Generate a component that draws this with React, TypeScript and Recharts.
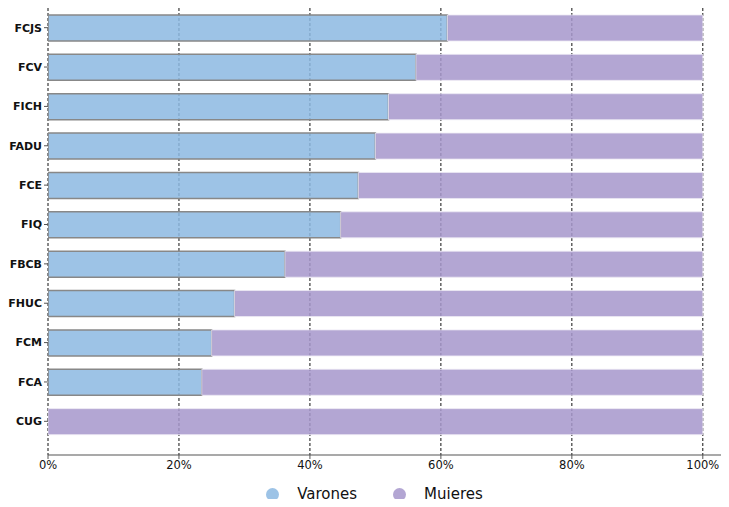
import { BarChart, Bar, XAxis, YAxis, CartesianGrid, Legend } from "recharts";

// ─── Data ─────────────────────────────────────────────────────────────────────

const FACULTADES = ["FCJS", "FCV", "FICH", "FADU", "FCE", "FIQ", "FBCB", "FHUC", "FCM", "FCA", "CUG"];
const VARONES = [61.0, 56.2, 52.0, 50.0, 47.4, 44.7, 36.2, 28.5, 25.0, 23.5, 0];
const MUJERES = [39.0, 43.8, 48.0, 50.0, 52.6, 55.3, 63.8, 71.5, 75.0, 76.5, 100];
const X_TICKS = [0, 20, 40, 60, 80, 100];

const BLUE = "#8cb9e2";
const PURPLE = "#a696cb";
const FONT = "DejaVu Sans, sans-serif";

const data = FACULTADES.map((name, i) => ({
  name,
  varones: VARONES[i],
  mujeres: MUJERES[i],
}));

// ─── Legend ───────────────────────────────────────────────────────────────────

function CustomLegend() {
  const items = [
    { label: "Varones", color: "#9dc3e6" },
    { label: "Mujeres", color: "#b3a6d3" },
  ];
  return (
    <div style={{ display: "flex", justifyContent: "center", gap: 36, fontFamily: FONT, fontSize: 15, color: "#111", paddingLeft: 20 }}>
      {items.map((it) => (
        <div key={it.label} style={{ display: "flex", alignItems: "center", gap: 18 }}>
          <span style={{ width: 13, height: 13, borderRadius: "50%", background: it.color, display: "inline-block" }} />
          <span>{it.label}</span>
        </div>
      ))}
    </div>
  );
}

// ─── Main ─────────────────────────────────────────────────────────────────────

export default function App() {
  return (
    <div style={{ margin: -8, width: 729, height: 507, background: "#fff" }}>
      <BarChart
        width={729}
        height={507}
        data={data}
        layout="vertical"
        margin={{ top: 8, right: 0, left: 0, bottom: 4 }}
        barSize={26}
      >
        <CartesianGrid horizontal={false} stroke="#111" strokeDasharray="3 2" />
        <XAxis
          type="number"
          domain={[0, 104]}
          ticks={X_TICKS}
          tickFormatter={(v) => `${v}%`}
          tick={{ fontSize: 11.5, fontFamily: FONT, fill: "#111" }}
          axisLine={{ stroke: "#555", strokeWidth: 1.2 }}
          tickLine={{ stroke: "#555" }}
          tickSize={4}
          height={22}
          allowDataOverflow
        />
        <YAxis
          type="category"
          dataKey="name"
          width={48}
          axisLine={false}
          tickLine={{ stroke: "#555" }}
          tickSize={4}
          tickMargin={2}
          padding={{ top: 0, bottom: 14 }}
          tick={{ fontSize: 11, fontFamily: FONT, fontWeight: "bold", fill: "#111" }}
        />
        <Legend verticalAlign="bottom" content={<CustomLegend />} wrapperStyle={{ paddingTop: 8 }} />
        <Bar
          dataKey="varones"
          stackId="a"
          fill={BLUE}
          fillOpacity={0.85}
          stroke="#888"
          strokeWidth={1.5}
          isAnimationActive={false}
        />
        <Bar
          dataKey="mujeres"
          stackId="a"
          fill={PURPLE}
          fillOpacity={0.85}
          stroke="#ece8f4"
          strokeWidth={0.8}
          isAnimationActive={false}
        />
      </BarChart>
    </div>
  );
}
